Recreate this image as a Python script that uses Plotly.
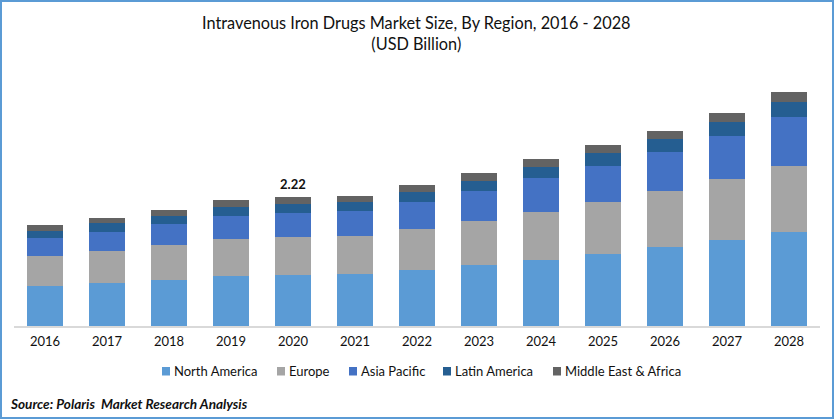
import plotly.graph_objects as go

years = ["2016","2017","2018","2019","2020","2021","2022","2023","2024","2025","2026","2027","2028"]
north_america = [0.69,0.74,0.79,0.86,0.88,0.90,0.96,1.05,1.14,1.24,1.36,1.48,1.62]
europe = [0.52,0.55,0.60,0.64,0.66,0.65,0.71,0.76,0.83,0.90,0.96,1.05,1.14]
asia_pacific = [0.31,0.33,0.36,0.40,0.41,0.43,0.46,0.52,0.57,0.62,0.67,0.74,0.83]
latin_america = [0.12,0.15,0.15,0.15,0.15,0.15,0.17,0.17,0.19,0.21,0.22,0.24,0.26]
middle_east_africa = [0.10,0.09,0.10,0.12,0.12,0.10,0.12,0.14,0.14,0.14,0.15,0.15,0.17]

FONT = "Lato"
TXT = "#111111"
W, H = 834, 419
L, R, T, B = 14, 14, 60, 93
PW, PH = W - L - R, H - T - B

def px(x):
    return (x - L) / PW

def py(y):
    return 1 - (y - T) / PH

series = [
    ("North America", north_america, "#5B9BD5"),
    ("Europe", europe, "#A5A5A5"),
    ("Asia Pacific", asia_pacific, "#4472C4"),
    ("Latin America", latin_america, "#255E91"),
    ("Middle East & Africa", middle_east_africa, "#636363"),
]
legend_left = [162, 277, 349, 443, 553]

fig = go.Figure()
for name, vals, col in series:
    fig.add_bar(x=years, y=vals, name=name, marker=dict(color=col, line_width=0), showlegend=False)

shapes = [dict(type="rect", xref="paper", yref="paper", layer="above",
               x0=px(1), x1=px(833), y0=py(418), y1=py(1),
               line=dict(color="#5B9BD5", width=2))]
annotations = [
    dict(text="Intravenous Iron Drugs Market Size, By Region, 2016 - 2028<br>(USD Billion)",
         xref="paper", yref="paper", x=px(416.5), y=py(11), yanchor="top", xanchor="center",
         showarrow=False, font=dict(family=FONT, size=16.3, color=TXT)),
    dict(text="<b>2.22</b>", x=years.index("2020"), y=sum(s[1][4] for s in series), yanchor="bottom", yshift=3,
         showarrow=False, font=dict(family=FONT, size=13, color=TXT)),
    dict(text="<b><i>Source: Polaris  Market Research Analysis</i></b>",
         xref="paper", yref="paper", x=px(8), xanchor="left", y=py(403.5), yanchor="middle",
         showarrow=False, font=dict(family=FONT, size=13.6, color=TXT)),
]
for (name, vals, col), left in zip(series, legend_left):
    shapes.append(dict(type="rect", xref="paper", yref="paper", layer="above",
                       x0=px(left), x1=px(left + 8), y0=py(375.5), y1=py(367),
                       fillcolor=col, line_width=0))
    annotations.append(dict(text=name, xref="paper", yref="paper", x=px(left + 10), xanchor="left",
                            y=py(371), yanchor="middle", showarrow=False,
                            font=dict(family=FONT, size=13, color=TXT)))

fig.update_layout(
    width=W, height=H, autosize=False,
    barmode="stack", bargap=0.42,
    paper_bgcolor="white", plot_bgcolor="white",
    font=dict(family=FONT, size=13, color=TXT),
    margin=dict(l=L, r=R, t=T, b=B),
    showlegend=False,
    xaxis=dict(type="category", range=[-0.5, 12.5], showline=True, linecolor="#D9D9D9", linewidth=1.5,
               ticks="", ticklabelstandoff=3, tickfont=dict(family=FONT, size=13, color=TXT), showgrid=False),
    yaxis=dict(visible=False, range=[0, 4.578], showgrid=False),
    shapes=shapes,
    annotations=annotations,
)
fig.write_html("out.html", config=dict(displayModeBar=False),
               post_script="document.body.style.margin='0';")
